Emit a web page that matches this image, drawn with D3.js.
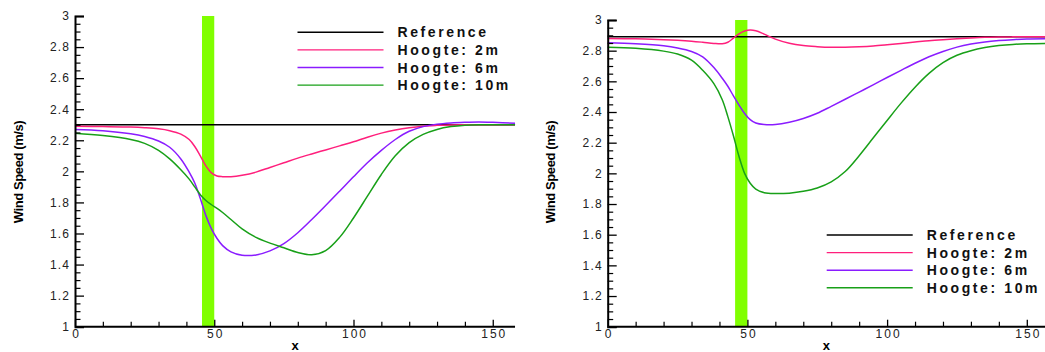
<!DOCTYPE html>
<html><head><meta charset="utf-8">
<script src="https://cdn.jsdelivr.net/npm/d3@7"></script>
<style>
html,body{margin:0;padding:0;background:#fff;overflow:hidden;}
svg{display:block;}
</style></head>
<body>
<svg id="chart" width="1045" height="352"></svg>
<script>
// ---------- data ----------
const SERIES_NAMES = ["Reference", "Hoogte: 2m", "Hoogte: 6m", "Hoogte: 10m"];
const X_POS = [0,10,20,25,30,34,38,41,43,45,47,49,51,53,56,60,65,70,75,80,85,90,95,100,105,110,115,120,125,130,135,140,145,150,158];

// left panel
const REF_L = [2.30,2.30,2.30,2.30,2.30,2.30,2.30,2.30,2.30,2.30,2.30,2.30,2.30,2.30,2.30,2.30,2.30,2.30,2.30,2.30,2.30,2.30,2.30,2.30,2.30,2.30,2.30,2.30,2.30,2.30,2.30,2.30,2.30,2.30,2.30];
const H2_L  = [2.29,2.288,2.285,2.281,2.274,2.262,2.24,2.205,2.16,2.1,2.035,1.99,1.97,1.966,1.966,1.975,1.995,2.025,2.055,2.085,2.112,2.138,2.164,2.19,2.22,2.246,2.266,2.281,2.291,2.296,2.299,2.30,2.30,2.30,2.30];
const H6_L  = [2.27,2.262,2.242,2.224,2.195,2.155,2.08,1.995,1.925,1.825,1.715,1.63,1.568,1.522,1.482,1.46,1.462,1.488,1.535,1.605,1.69,1.78,1.872,1.965,2.055,2.135,2.205,2.258,2.288,2.304,2.312,2.316,2.318,2.316,2.31];
const H10_L = [2.245,2.23,2.205,2.18,2.135,2.08,2.01,1.95,1.9,1.85,1.812,1.785,1.762,1.735,1.69,1.63,1.575,1.538,1.508,1.478,1.463,1.49,1.575,1.70,1.84,1.98,2.1,2.185,2.238,2.27,2.288,2.297,2.30,2.30,2.30];

// right panel
const REF_R = [2.89,2.89,2.89,2.89,2.89,2.89,2.89,2.89,2.89,2.89,2.89,2.89,2.89,2.89,2.89,2.89,2.89,2.89,2.89,2.89,2.89,2.89,2.89,2.89,2.89,2.89,2.89,2.89,2.89,2.89,2.89,2.89,2.89,2.89,2.89];
const H2_R  = [2.88,2.877,2.872,2.868,2.862,2.855,2.847,2.845,2.855,2.882,2.91,2.928,2.935,2.93,2.908,2.875,2.848,2.833,2.826,2.822,2.822,2.825,2.83,2.838,2.847,2.856,2.865,2.872,2.878,2.883,2.887,2.889,2.89,2.89,2.89];
const H6_R  = [2.852,2.845,2.832,2.818,2.795,2.76,2.69,2.62,2.568,2.505,2.445,2.39,2.35,2.328,2.318,2.318,2.333,2.358,2.392,2.437,2.483,2.53,2.577,2.625,2.672,2.718,2.76,2.795,2.823,2.843,2.857,2.866,2.872,2.876,2.878];
const H10_R = [2.822,2.815,2.797,2.778,2.738,2.672,2.585,2.48,2.37,2.245,2.11,2.0,1.935,1.897,1.874,1.868,1.871,1.883,1.905,1.945,2.012,2.115,2.23,2.345,2.458,2.562,2.652,2.722,2.77,2.8,2.82,2.833,2.841,2.845,2.848];

const BAR_X = [45.6, 50];
const Y_TICKS = [1,1.2,1.4,1.6,1.8,2,2.2,2.4,2.6,2.8,3];
const Y_TICK_LABELS = ["1","1.2","1.4","1.6","1.8","2","2.2","2.4","2.6","2.8","3"];
const X_TICKS = [0,50,100,150];
const X_TICK_LABELS = ["0","50","100","150"];
const COLORS = ["#000000","#ff1f7c","#8a1cff","#18a018"];

// ---------- drawing ----------
const svg = d3.select("#chart");
const FONT = "Liberation Sans, Arial, sans-serif";

function panel(opt) {
  const x = d3.scaleLinear().domain([0,158]).range([opt.x0, opt.x0 + 158*opt.pxPerUnit]);
  const y = d3.scaleLinear().domain([1,3]).range([326.7, opt.yTop]);
  const g = svg.append("g");

  // green bar
  g.append("rect")
    .attr("x", x(BAR_X[0])).attr("width", x(BAR_X[1]) - x(BAR_X[0]))
    .attr("y", y(3)).attr("height", y(1) - y(3))
    .attr("fill", "#80ff00");

  // lines
  const line = d3.line().x((d,i)=>x(X_POS[i])).y(d=>y(d)).curve(d3.curveCatmullRom.alpha(0.5));
  opt.series.forEach((s,k)=>{
    g.append("path").datum(s).attr("d", line)
      .attr("fill","none").attr("stroke",COLORS[k]).attr("stroke-width",1.5);
  });

  // y minor ticks
  const yMinor = d3.range(1, 3.001, 0.05).filter(v => Math.abs(v*5 - Math.round(v*5)) > 1e-6);
  g.append("g").attr("transform",`translate(${opt.x0},0)`)
    .call(d3.axisLeft(y).tickValues(yMinor).tickSize(-5.5).tickFormat(""))
    .call(a=>a.select(".domain").remove())
    .call(a=>a.selectAll("line").attr("stroke","#000").attr("stroke-width",1.2));

  // y major
  const ya = g.append("g").attr("transform",`translate(${opt.x0},0)`)
    .call(d3.axisLeft(y).tickValues(Y_TICKS).tickSize(-9).tickPadding(6)
      .tickFormat((d,i)=>Y_TICK_LABELS[i]));
  ya.select(".domain").attr("stroke","#000").attr("stroke-width",2);
  ya.selectAll("line").attr("stroke","#000").attr("stroke-width",1.3);
  ya.selectAll("text").attr("font-family",FONT)
    .attr("font-size","12px").attr("fill","#222").attr("letter-spacing","1.2px").attr("dx","1.2");

  // x minor
  const xMinor = d3.range(10, 158, 10).filter(v => v % 50 !== 0);
  g.append("g").attr("transform",`translate(0,326.7)`)
    .call(d3.axisBottom(x).tickValues(xMinor).tickSize(-5).tickFormat(""))
    .call(a=>a.select(".domain").remove())
    .call(a=>a.selectAll("line").attr("stroke","#000").attr("stroke-width",1.2));

  // x major
  const xa = g.append("g").attr("transform",`translate(0,326.7)`)
    .call(d3.axisBottom(x).tickValues(X_TICKS).tickSize(-7).tickPadding(3)
      .tickFormat((d,i)=>X_TICK_LABELS[i]));
  xa.select(".domain").attr("d", `M${x(0)},0H${x(158)}`).attr("stroke","#000").attr("stroke-width",2);
  xa.selectAll("line").attr("stroke","#000").attr("stroke-width",1.3);
  xa.selectAll("text").attr("font-family",FONT)
    .attr("font-size","12px").attr("fill","#222").attr("letter-spacing","2px").attr("dx","1");

  // axis titles
  g.append("text").attr("x", (x(0)+Math.min(x(158),1045))/2).attr("y", 350)
    .attr("text-anchor","middle").attr("font-family",FONT)
    .attr("font-weight","bold").attr("font-size","13px").text("x");
  g.append("text")
    .attr("transform",`translate(${opt.yLabelX},172) rotate(-90)`)
    .attr("text-anchor","middle").attr("font-family",FONT)
    .attr("font-weight","bold").attr("font-size","13px").attr("letter-spacing","-0.4px")
    .text("Wind Speed (m/s)");

  // legend
  const lg = g.append("g");
  SERIES_NAMES.forEach((name,k)=>{
    const yy = opt.legY + k*17.6;
    lg.append("line").attr("x1",opt.legX).attr("x2",opt.legX+86)
      .attr("y1",yy).attr("y2",yy).attr("stroke",COLORS[k]).attr("stroke-width",1.4);
    lg.append("text").attr("x",opt.legX+100).attr("y",yy+5)
      .attr("font-family",FONT).attr("font-weight","bold")
      .attr("font-size","14px").attr("letter-spacing","2.6px").attr("fill","#111").text(name);
  });
}

panel({x0:75, pxPerUnit:2.785, yTop:16, yLabelX:23, legX:297.5, legY:32.3,
       series:[REF_L,H2_L,H6_L,H10_L]});
panel({x0:607.7, pxPerUnit:2.794, yTop:20, yLabelX:555, legX:826.7, legY:235,
       series:[REF_R,H2_R,H6_R,H10_R]});
</script>
</body></html>
